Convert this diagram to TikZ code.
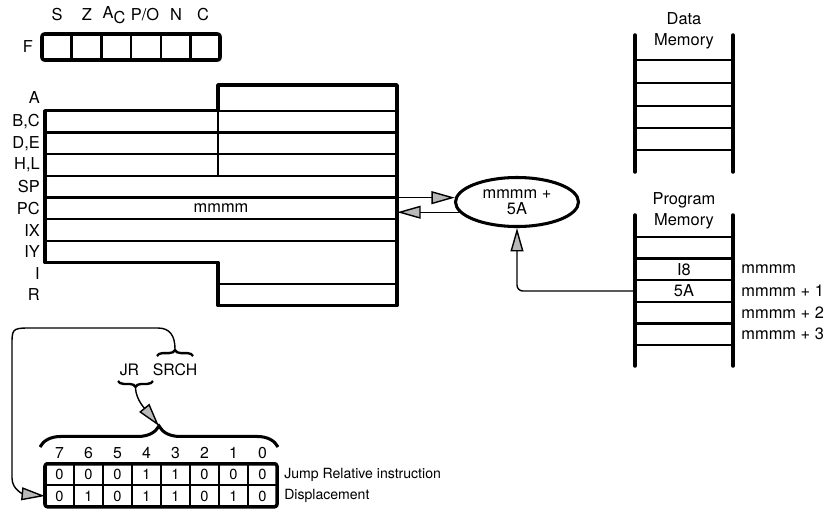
\documentclass[tikz,border=0pt]{standalone}
\usepackage{fontspec}
\setmainfont{TeX Gyre Heros}
\usetikzlibrary{positioning,arrows.meta,decorations.pathreplacing,shapes.geometric}

\begin{document}
\begin{tikzpicture}
    [x=0.03cm,y=-0.03cm,font=\fontsize{14}{18}\selectfont,
     outl/.style={line width=3pt,line join=round},
     inl/.style={line width=2pt},
     rail/.style={line width=3pt,line cap=round},
     rung/.style={line width=2pt},
     rlbl/.style={anchor=east,inner sep=0pt,font=\fontsize{14}{16}\selectfont},
     cell/.style={minimum width=2.94cm,minimum height=0.648cm,inner sep=0pt,outer sep=0pt},
     addr/.style={inner sep=0pt,node distance=7pt},
     bitrow/.style={minimum width=6.96cm,minimum height=0.645cm,inner sep=0pt,outer sep=0pt},
     bit/.style={inner sep=0pt,font=\fontsize{12.5}{14}\selectfont},
     note/.style={inner sep=0pt,node distance=6pt,font=\fontsize{12}{14}\selectfont},
     arr/.style={-{Triangle[length=20pt,width=11pt,fill=gray!55]},line width=1.2pt},
     brc/.style={decorate,line width=2pt}]

    \useasboundingbox (0,0) rectangle (837,520);

    % flag register
    \node[draw,outl,rounded corners=2pt,minimum width=5.34cm,minimum height=0.78cm,inner sep=0pt] (ff) at (131,47) {};
    \foreach \k in {1,...,5}
        \draw[inl] ({42+\k*29.67},34) -- ({42+\k*29.67},60);
    \node[inner sep=0pt] (fl) [left=6pt of ff] {F};
    \node (fs) at (57,15) {S};
    \node (fz) at (87,15) {Z};
    \node (fac) at (114,15) {A\raisebox{-4pt}{C}};
    \node (fpo) at (145,15) {P/O};
    \node (fn) at (176,15) {N};
    \node (fc) at (203,15) {C};

    % register file
    \draw[outl] (45,110.7) -- (218,110.7) -- (218,85) -- (397,85) -- (397,305.4)
        -- (218,305.4) -- (218,262.6) -- (45,262.6) -- cycle;
    \draw[inl] (218,110.7) -- (397,110.7) (218,284.3) -- (397,284.3) (218,110.7) -- (218,175.8);
    \foreach \y in {132.4,154.1,175.8,197.5,219.2,240.9}
        \draw[inl] (45,\y) -- (397,\y);
    \foreach \t/\n/\y in {A/ra/97.9,{B,C}/rbc/121.6,{D,E}/rde/143.3,{H,L}/rhl/165,SP/rsp/186.7,
                          PC/rpc/208.4,IX/rix/230.1,IY/riy/251.8,I/ri/273.5,R/rr/294.9}
        \node[rlbl] (\n) at (40,\y) {\t};
    \node[minimum width=10.56cm,minimum height=0.651cm,inner sep=0pt] (pc) at (221,208.4) {mmmm};

    % adder
    \node[ellipse,draw,line width=2.6pt,minimum width=3.69cm,minimum height=1.47cm,inner sep=0pt,align=center]
        (sum) at (517,202) {mmmm +\\[-4pt]5A};
    \draw[arr] (pc.east |- sum.176) -- (sum.176);
    \draw[arr] (sum.190) -- (pc.east |- sum.190);

    % data memory
    \node[align=center,inner sep=0pt] (dm) at (684,31) {Data\\Memory};
    \draw[rail] (635,35) -- (635,172);
    \draw[rail] (733,35) -- (733,172);
    \foreach \y in {60,83,106,128,150}
        \draw[rung] (635,\y) -- (733,\y);

    % program memory
    \node[align=center,inner sep=0pt] (pm) at (684,210.5) {Program\\Memory};
    \draw[rail] (635,215) -- (635,366);
    \draw[rail] (733,215) -- (733,366);
    \foreach \y in {237,258.6,280.2,301.8,323.4,345}
        \draw[rung] (635,\y) -- (733,\y);
    \node[cell] (ci8) at (684,269.4) {I8};
    \node[cell] (c5a) [below=0pt of ci8] {5A};
    \node[cell] (cm2) [below=0pt of c5a] {};
    \node[cell] (cm3) [below=0pt of cm2] {};
    \node[addr] (a0) [right=of ci8] {mmmm};
    \node[addr] (a1) [right=of c5a] {mmmm + 1};
    \node[addr] (a2) [right=of cm2] {mmmm + 2};
    \node[addr] (a3) [right=of cm3] {mmmm + 3};
    \draw[arr,rounded corners=5pt] (c5a.west) -| (sum.south);

    % instruction bits
    \node[bitrow] (jrow) at (161,474.5) {};
    \node[bitrow] (drow) [below=0pt of jrow] {};
    \draw[outl,rounded corners=2pt] (jrow.north west) rectangle (drow.south east);
    \draw[inl] (jrow.south west) -- (jrow.south east);
    \foreach \k in {1,...,7}
        \draw[inl] ({45+29*\k},464) -- ({45+29*\k},507);
    \foreach \b [count=\k from 0] in {7,6,...,0}
        \node[bit,font=\fontsize{13.5}{15}\selectfont] (n\k) at ({59.5+29*\k},453) {\b};
    \foreach \b [count=\k from 0] in {0,0,0,1,1,0,0,0}
        \node[bit] (j\k) at ({59.5+29*\k},474.5) {\b};
    \foreach \b [count=\k from 0] in {0,1,0,1,1,0,1,0}
        \node[bit] (d\k) at ({59.5+29*\k},496) {\b};
    \node[note] (jtxt) [right=of jrow] {Jump Relative instruction};
    \node[note] (dtxt) [right=of drow] {Displacement};

    % mnemonics
    \node[inner sep=0pt,font=\fontsize{13.5}{15}\selectfont] (jr) at (129.5,370) {JR};
    \node[inner sep=0pt,font=\fontsize{13.5}{15}\selectfont] (srch) at (175,370) {SRCH};
    \draw[brc,decoration={brace,amplitude=5pt}] (157,356) -- (193,356);
    \draw[brc,decoration={brace,amplitude=5pt}] (153,381) -- (118,381);
    \draw[brc,line width=2.6pt,decoration={brace,amplitude=18pt}] (40,447) -- (278,447);
    \coordinate (srtip) at (175,349);
    \coordinate (jrtip) at (135.5,388);
    \coordinate (bigtip) at (159,426);
    \draw[arr] (jrtip) .. controls (136,400) and (146,410) .. (bigtip);
    \draw[arr] (srtip) .. controls (175,336) and (170,328) .. (158,328) -- (28,328)
        .. controls (12,328) and (12,330) .. (12,345) -- (12,478)
        .. controls (12,490) and (24,494) .. (drow.west);
\end{tikzpicture}
\end{document}
